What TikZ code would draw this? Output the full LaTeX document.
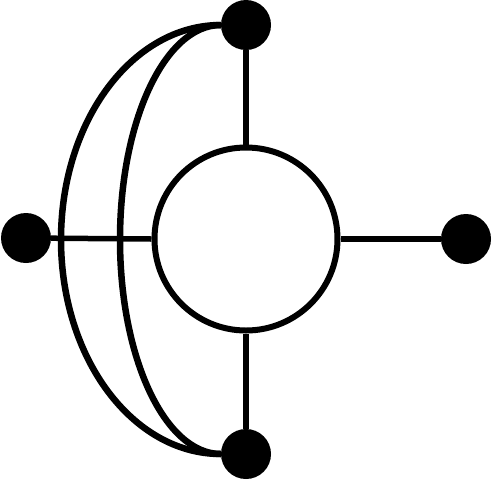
\documentclass[tikz,border=0pt]{standalone}
\begin{document}
\begin{tikzpicture}[x=1pt,y=-1pt,
  dot/.style={circle,fill=black,inner sep=0pt,minimum size=50pt},
  ring/.style={circle,draw=black,line width=6pt,inner sep=0pt,minimum size=183pt},
  edge/.style={line width=5.5pt},
  arc/.style={line width=6.5pt}]
\useasboundingbox (0,0) rectangle (492,480);
\node[dot] (t) at (246,25) {};
\node[dot] (b) at (246,454) {};
\node[dot] (l) at (26,238) {};
\node[dot] (r) at (466,239) {};
\node[ring] (c) at (246,239) {};
\coordinate (ol) at (61,239.5);
\coordinate (il) at (120,239.5);
\draw[edge] (t) -- (c);
\draw[edge] (b) -- (c);
\draw[edge] (l) -- (c.west);
\draw[edge] (r) -- (c);
\draw[arc] (t.west) .. controls +(-88.4,0) and +(0,-118.5) .. (ol)
  .. controls +(0,118.5) and +(-88.4,0) .. (b.west);
\draw[arc] (t.west) .. controls +(-55.8,0) and +(0,-118.5) .. (il)
  .. controls +(0,118.5) and +(-55.8,0) .. (b.west);
\end{tikzpicture}
\end{document}
